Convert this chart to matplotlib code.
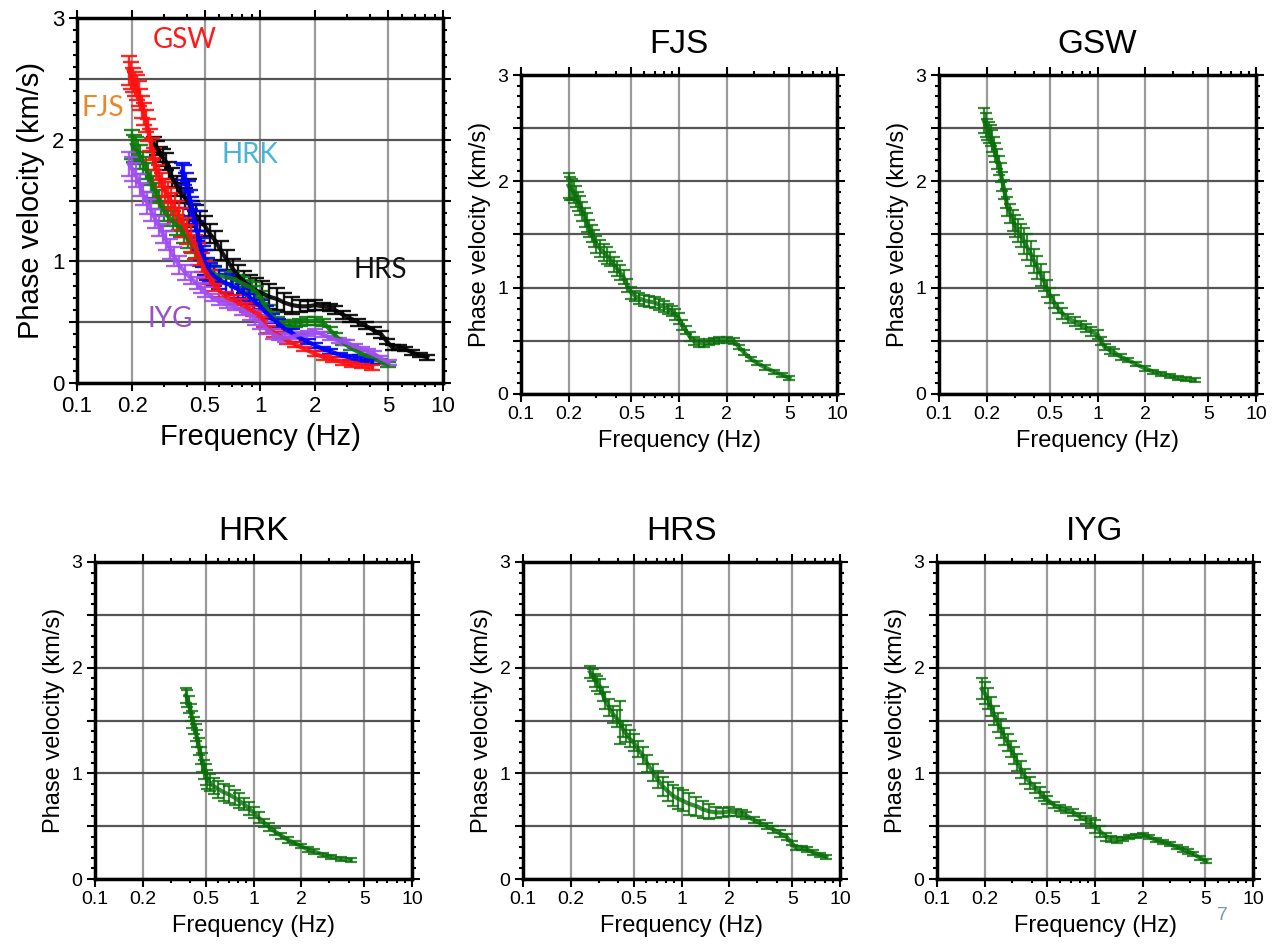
import numpy as np
import matplotlib
matplotlib.use("Agg")
import matplotlib.pyplot as plt
from matplotlib.ticker import FixedLocator, FuncFormatter, MultipleLocator

plt.rcParams['font.family'] = ['Liberation Sans', 'DejaVu Sans']

# dispersion curves: frequency (Hz), phase velocity (km/s), error
fjs_freq = [0.200, 0.205, 0.210, 0.215, 0.222, 0.230, 0.237, 0.245, 0.253, 0.261,
            0.270, 0.280, 0.288, 0.300, 0.315, 0.333, 0.350, 0.368, 0.386, 0.405,
            0.425, 0.446, 0.470, 0.500, 0.53, 0.56, 0.60, 0.65, 0.70, 0.75,
            0.80, 0.85, 0.90, 0.95, 1.00, 1.05, 1.10, 1.17, 1.24, 1.33,
            1.44, 1.55, 1.66, 1.80, 2.00, 2.22, 2.40, 2.58, 2.85, 3.13,
            3.5, 3.99, 4.5, 5.0]
fjs_vel = [1.96, 1.93, 1.92, 1.90, 1.86, 1.81, 1.77, 1.72, 1.66, 1.61,
           1.56, 1.51, 1.46, 1.41, 1.37, 1.33, 1.30, 1.27, 1.22, 1.18,
           1.14, 1.10, 1.02, 0.95, 0.92, 0.90, 0.88, 0.87, 0.86, 0.84,
           0.82, 0.80, 0.78, 0.75, 0.71, 0.65, 0.60, 0.54, 0.50, 0.48,
           0.47, 0.49, 0.50, 0.51, 0.51, 0.50, 0.44, 0.39, 0.33, 0.29,
           0.25, 0.21, 0.18, 0.15]
fjs_err = [0.12, 0.11, 0.10, 0.10, 0.10, 0.09, 0.09, 0.09, 0.09, 0.09,
           0.08, 0.08, 0.08, 0.08, 0.08, 0.08, 0.08, 0.07, 0.07, 0.07,
           0.07, 0.07, 0.06, 0.06, 0.05, 0.05, 0.05, 0.05, 0.05, 0.05,
           0.05, 0.05, 0.05, 0.05, 0.05, 0.05, 0.04, 0.04, 0.04, 0.04,
           0.03, 0.03, 0.03, 0.03, 0.03, 0.03, 0.02, 0.02, 0.02, 0.02,
           0.02, 0.02, 0.02, 0.02]

gsw_freq = [0.192, 0.197, 0.202, 0.207, 0.212, 0.217, 0.222, 0.227, 0.233, 0.239,
            0.245, 0.251, 0.258, 0.264, 0.270, 0.280, 0.291, 0.302, 0.313, 0.328,
            0.343, 0.360, 0.379, 0.398, 0.418, 0.44, 0.461, 0.48, 0.50, 0.53,
            0.56, 0.60, 0.65, 0.72, 0.787, 0.85, 0.91, 1.00, 1.05, 1.11,
            1.20, 1.28, 1.40, 1.55, 1.75, 2.00, 2.25, 2.52, 2.85, 3.20,
            3.6, 4.10]
gsw_vel = [2.57, 2.53, 2.49, 2.46, 2.43, 2.38, 2.33, 2.27, 2.21, 2.15,
           2.08, 2.00, 1.92, 1.84, 1.76, 1.70, 1.63, 1.58, 1.54, 1.49,
           1.44, 1.38, 1.32, 1.25, 1.19, 1.12, 1.06, 0.99, 0.93, 0.87,
           0.81, 0.76, 0.71, 0.68, 0.65, 0.62, 0.59, 0.56, 0.50, 0.44,
           0.41, 0.39, 0.35, 0.32, 0.28, 0.24, 0.21, 0.19, 0.17, 0.15,
           0.14, 0.13]
gsw_err = [0.12, 0.11, 0.10, 0.10, 0.10, 0.10, 0.09, 0.09, 0.09, 0.09,
           0.09, 0.09, 0.09, 0.09, 0.09, 0.09, 0.10, 0.10, 0.11, 0.11,
           0.12, 0.12, 0.12, 0.11, 0.11, 0.10, 0.09, 0.08, 0.07, 0.06,
           0.05, 0.05, 0.04, 0.04, 0.04, 0.04, 0.04, 0.04, 0.04, 0.03,
           0.03, 0.03, 0.03, 0.02, 0.02, 0.02, 0.02, 0.02, 0.02, 0.02,
           0.02, 0.02]

hrk_freq = [0.375, 0.383, 0.392, 0.402, 0.412, 0.422, 0.432, 0.442, 0.453, 0.464,
            0.476, 0.488, 0.50, 0.512, 0.535, 0.56, 0.60, 0.65, 0.70, 0.76,
            0.81, 0.87, 0.93, 1.00, 1.08, 1.17, 1.26, 1.36, 1.50, 1.65,
            1.82, 2.00, 2.20, 2.42, 2.75, 3.09, 3.55, 4.10]
hrk_vel = [1.74, 1.71, 1.65, 1.58, 1.51, 1.45, 1.39, 1.33, 1.25, 1.17,
           1.10, 1.04, 0.99, 0.94, 0.91, 0.88, 0.85, 0.82, 0.80, 0.77,
           0.74, 0.71, 0.67, 0.63, 0.58, 0.53, 0.49, 0.45, 0.41, 0.37,
           0.34, 0.31, 0.28, 0.26, 0.23, 0.21, 0.19, 0.18]
hrk_err = [0.07, 0.08, 0.08, 0.08, 0.08, 0.08, 0.08, 0.08, 0.08, 0.08,
           0.09, 0.09, 0.10, 0.09, 0.08, 0.08, 0.08, 0.08, 0.08, 0.07,
           0.07, 0.06, 0.06, 0.05, 0.05, 0.04, 0.04, 0.03, 0.03, 0.03,
           0.02, 0.02, 0.02, 0.02, 0.02, 0.02, 0.02, 0.02]

hrs_freq = [0.265, 0.275, 0.285, 0.295, 0.306, 0.318, 0.33, 0.351, 0.37, 0.39,
            0.409, 0.426, 0.445, 0.47, 0.50, 0.53, 0.57, 0.61, 0.66, 0.71,
            0.76, 0.82, 0.88, 0.95, 1.02, 1.12, 1.24, 1.36, 1.50, 1.65,
            1.83, 2.00, 2.22, 2.40, 2.57, 2.85, 3.12, 3.45, 3.79, 4.2,
            4.6, 4.95, 5.3, 5.75, 6.2, 6.8, 7.5, 8.2]
hrs_vel = [1.96, 1.93, 1.88, 1.85, 1.82, 1.75, 1.69, 1.62, 1.56, 1.52,
           1.48, 1.42, 1.38, 1.33, 1.29, 1.23, 1.17, 1.09, 1.01, 0.94,
           0.88, 0.83, 0.79, 0.76, 0.74, 0.71, 0.69, 0.66, 0.64, 0.63,
           0.63, 0.64, 0.63, 0.62, 0.60, 0.56, 0.53, 0.50, 0.47, 0.43,
           0.40, 0.34, 0.29, 0.29, 0.28, 0.25, 0.23, 0.21]
hrs_err = [0.06, 0.06, 0.06, 0.07, 0.07, 0.07, 0.08, 0.08, 0.08, 0.08,
           0.20, 0.08, 0.08, 0.08, 0.08, 0.08, 0.08, 0.08, 0.08, 0.08,
           0.09, 0.09, 0.10, 0.10, 0.10, 0.10, 0.09, 0.08, 0.07, 0.05,
           0.04, 0.04, 0.03, 0.03, 0.03, 0.03, 0.03, 0.03, 0.03, 0.03,
           0.03, 0.02, 0.02, 0.02, 0.02, 0.02, 0.02, 0.02]

iyg_freq = [0.192, 0.20, 0.21, 0.22, 0.23, 0.242, 0.254, 0.267, 0.28, 0.294,
            0.308, 0.323, 0.339, 0.36, 0.39, 0.42, 0.45, 0.475, 0.50, 0.55,
            0.60, 0.66, 0.73, 0.80, 0.88, 0.94, 1.00, 1.08, 1.18, 1.27,
            1.37, 1.50, 1.65, 1.82, 2.00, 2.20, 2.42, 2.70, 3.0, 3.3,
            3.6, 3.9, 4.19, 4.6, 5.05]
iyg_vel = [1.80, 1.76, 1.71, 1.63, 1.55, 1.48, 1.42, 1.35, 1.29, 1.23,
           1.17, 1.10, 1.04, 0.97, 0.91, 0.86, 0.82, 0.78, 0.75, 0.70,
           0.67, 0.65, 0.63, 0.59, 0.56, 0.53, 0.50, 0.45, 0.40, 0.38,
           0.37, 0.38, 0.40, 0.41, 0.42, 0.40, 0.37, 0.35, 0.33, 0.30,
           0.28, 0.26, 0.24, 0.20, 0.17]
iyg_err = [0.10, 0.10, 0.10, 0.09, 0.09, 0.09, 0.09, 0.08, 0.08, 0.08,
           0.08, 0.08, 0.08, 0.07, 0.06, 0.05, 0.05, 0.04, 0.04, 0.03,
           0.03, 0.03, 0.03, 0.03, 0.04, 0.05, 0.06, 0.05, 0.04, 0.03,
           0.03, 0.02, 0.02, 0.02, 0.02, 0.02, 0.02, 0.02, 0.02, 0.02,
           0.02, 0.02, 0.02, 0.02, 0.02]

stations = ["FJS", "GSW", "HRK", "HRS", "IYG"]
curves = {
    "FJS": (fjs_freq, fjs_vel, fjs_err),
    "GSW": (gsw_freq, gsw_vel, gsw_err),
    "HRK": (hrk_freq, hrk_vel, hrk_err),
    "HRS": (hrs_freq, hrs_vel, hrs_err),
    "IYG": (iyg_freq, iyg_vel, iyg_err),
}
# colours in the combined panel, and the colours of the station names there
curve_colors = {"HRS": "black", "FJS": "#0b7a0b", "HRK": "#0000ff", "GSW": "#ff1010", "IYG": "#a04ef0"}
label_colors = {"GSW": "#ff1a1a", "FJS": "#e8892b", "HRK": "#4ab4d8", "HRS": "#111111", "IYG": "#9a50c8"}
label_pos = {"GSW": (0.389, 2.82), "FJS": (0.139, 2.26), "HRK": (0.88, 1.87),
             "HRS": (4.53, 0.93), "IYG": (0.322, 0.53)}

x_ticks = [0.1, 0.2, 0.5, 1, 2, 5, 10]
x_minor = [0.3, 0.4, 0.6, 0.7, 0.8, 0.9, 3, 4, 6, 7, 8, 9]

W, H = 1273, 948
fig = plt.figure(figsize=(W / 100, H / 100), dpi=100)


def make_axes(x0, x1, y0, y1):
    return fig.add_axes([x0 / W, 1 - y1 / H, (x1 - x0) / W, (y1 - y0) / H])


def style(ax, big=False):
    fs_tick = 16 if big else 14
    fs_lab = 21 if big else 17
    ax.set_xscale("log")
    ax.set_xlim(0.1, 10)
    ax.set_ylim(0, 3)
    ax.xaxis.set_major_locator(FixedLocator(x_ticks))
    ax.xaxis.set_minor_locator(FixedLocator(x_minor))
    ax.xaxis.set_major_formatter(FuncFormatter(lambda v, p: "%g" % v))
    ax.xaxis.set_minor_formatter(FuncFormatter(lambda v, p: ""))
    ax.yaxis.set_major_locator(MultipleLocator(0.5))
    ax.yaxis.set_minor_locator(MultipleLocator(0.1))
    ax.yaxis.set_major_formatter(FuncFormatter(lambda v, p: "%d" % v if abs(v - round(v)) < 1e-6 else ""))
    ax.grid(True, axis="x", which="major", color="#9a9a9a", lw=1.6)
    ax.grid(True, axis="y", which="major", color="#555555", lw=1.6)
    ax.set_axisbelow(True)
    for sp in ax.spines.values():
        sp.set_linewidth(2.5)
    ax.tick_params(which="both", direction="out", top=True, right=True, width=1.5,
                   labelsize=fs_tick, pad=3)
    ax.tick_params(which="major", length=6)
    ax.tick_params(which="minor", length=3)
    ax.set_xlabel("Frequency (Hz)", fontsize=fs_lab, labelpad=5)
    ax.set_ylabel("Phase velocity (km/s)", fontsize=fs_lab, labelpad=5)


# combined panel
ax0 = make_axes(77, 443, 18, 383)
style(ax0, big=True)
for st in ["HRS", "FJS", "HRK", "GSW", "IYG"]:
    f, v, e = curves[st]
    ax0.errorbar(f, v, yerr=e, color=curve_colors[st], lw=3, elinewidth=1.7,
                 capsize=5.5, capthick=1.7, alpha=0.9)
for st in stations:
    ax0.text(label_pos[st][0], label_pos[st][1], st, color=label_colors[st],
             fontsize=20, family=["Lato", "DejaVu Sans"], ha="center", va="center")

# single station panels
boxes = {"FJS": (521, 837, 75, 394), "GSW": (939, 1256, 75, 394),
         "HRK": (95, 412, 562, 879), "HRS": (523, 840, 562, 879), "IYG": (937, 1253, 562, 879)}
for st in stations:
    ax = make_axes(*boxes[st])
    style(ax)
    f, v, e = curves[st]
    ax.errorbar(f, v, yerr=e, color="#0a6e0a", lw=3, elinewidth=1.6,
                capsize=4.5, capthick=1.6, alpha=0.8)
    ax.set_title(st, fontsize=24, pad=16)

fig.text(1222 / W, 1 - 915 / H, "7", color="#8496b0", fontsize=14, ha="center", va="center")

plt.savefig("out.png", dpi=100)
